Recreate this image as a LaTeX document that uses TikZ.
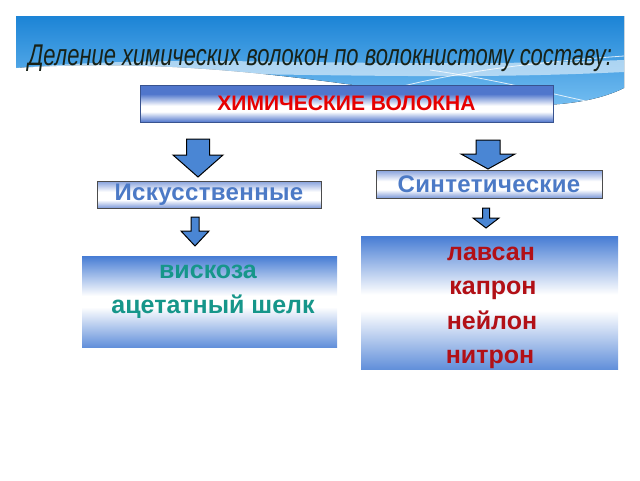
\documentclass[tikz,border=0pt]{standalone}
\usepackage{fontspec}
\setmainfont{Liberation Sans}
\newfontfamily\spacedfont[LetterSpace=1.5]{Liberation Sans}
\definecolor{skytop}{RGB}{28,132,214}
\definecolor{skylow}{RGB}{120,192,242}
\definecolor{bandblue}{RGB}{80,118,204}
\definecolor{boxblue}{RGB}{70,124,212}
\definecolor{arrowblue}{RGB}{74,134,212}
\definecolor{titleink}{RGB}{24,34,24}
\definecolor{headred}{RGB}{230,0,0}
\definecolor{labelblue}{RGB}{76,122,198}
\definecolor{itemteal}{RGB}{22,150,138}
\definecolor{itemred}{RGB}{178,16,22}
\pgfdeclareverticalshading{bandshade}{100bp}{color(0bp)=(bandblue); color(25bp)=(bandblue); color(39bp)=(white); color(47bp)=(white); color(63bp)=(bandblue); color(75bp)=(bandblue); color(100bp)=(bandblue)}
\pgfdeclareverticalshading{labelshade}{100bp}{color(0bp)=(bandblue!75); color(25bp)=(bandblue!75); color(40bp)=(white); color(55bp)=(white); color(75bp)=(bandblue!70); color(100bp)=(bandblue!70)}
\pgfdeclareverticalshading{boxshade}{100bp}{color(0bp)=(boxblue!85); color(25bp)=(boxblue!85); color(47bp)=(white); color(53bp)=(white); color(75bp)=(boxblue); color(100bp)=(boxblue)}
\begin{document}
\begin{tikzpicture}[x=1pt, y=-1pt,
        head-box/.style={
            shading=bandshade,
            draw=bandblue!70!black, line width=0.4pt,
            inner sep=0pt,
            font=\fontsize{21}{21}\selectfont\bfseries,
            text=headred
        },
        label-box/.style={
            shading=labelshade,
            draw=black!70, line width=0.6pt,
            inner sep=0pt,
            font=\fontsize{24}{24}\selectfont\spacedfont\bfseries,
            text=labelblue
        },
        item-box/.style={
            shading=boxshade,
            inner sep=0pt
        },
        item/.style={
            inner sep=0pt, anchor=base,
            font=\fontsize{25}{25}\selectfont\bfseries
        }
    ]
    \useasboundingbox (0,0) rectangle (640,480);
    % sky banner
    \fill[top color=skytop, bottom color=skylow] (16,16) -- (624,16) -- (624,88)
        .. controls (592,104) and (540,110) .. (470,101)
        .. controls (350,86) and (200,56) .. (16,68) -- cycle;
    \fill[white, opacity=0.55] (16,68) .. controls (200,52) and (350,70) .. (624,60)
        -- (624,72) .. controls (420,82) and (250,70) .. (16,74) -- cycle;
    \draw[white, opacity=0.8, line width=0.8pt] (380,92) .. controls (460,70) and (540,62) .. (624,56);
    \draw[white, opacity=0.8, line width=0.8pt] (430,70) .. controls (500,80) and (560,96) .. (600,104);
    % title
    \node[inner sep=0pt, text=titleink] (title) at (320,58)
        {\resizebox{584pt}{\height}{\fontsize{30}{30}\selectfont\itshape Деление химических волокон по волокнистому составу:}};
    % boxes
    \node[head-box, minimum width=413pt, minimum height=37pt] (chem) at (346.5,103.5) {ХИМИЧЕСКИЕ ВОЛОКНА};
    \node[label-box, minimum width=224pt, minimum height=27pt] (art) at (209,194.5) {Искусственные};
    \node[label-box, minimum width=226pt, minimum height=28pt] (syn) at (489,184) {Синтетические};
    \node[item-box, minimum width=255pt, minimum height=91pt] (artlist) at (209.5,301.5) {};
    \node[item-box, minimum width=257pt, minimum height=133pt] (synlist) at (489.5,302.5) {};
    % items (placed at their baselines)
    \node[item, text=itemteal] (viscose) at (208,278) {вискоза};
    \node[item, text=itemteal] (acetate) at (213,313) {ацетатный шелк};
    \foreach \name/\word/\x/\y in {lavsan/лавсан/491/260, kapron/капрон/493/294.5,
            nylon/нейлон/492/329, nitron/нитрон/490/363.5} {
        \node[item, text=itemred] (\name) at (\x,\y) {\word};
    }
    % block arrows: x, top, shaft half width, head half width, head start, tip
    \foreach \cx/\ytop/\sw/\hw/\yh/\ytip in {198/139/11.5/25/155/177, 488/140/12/27/154/169,
            195/217/4/14/231/246, 486/208/3.5/13/218/228} {
        \filldraw[fill=arrowblue, draw=black, line width=1pt, line join=miter]
            (\cx-\sw,\ytop) -- (\cx+\sw,\ytop) -- (\cx+\sw,\yh) -- (\cx+\hw,\yh)
            -- (\cx,\ytip) -- (\cx-\hw,\yh) -- (\cx-\sw,\yh) -- cycle;
    }
\end{tikzpicture}
\end{document}
